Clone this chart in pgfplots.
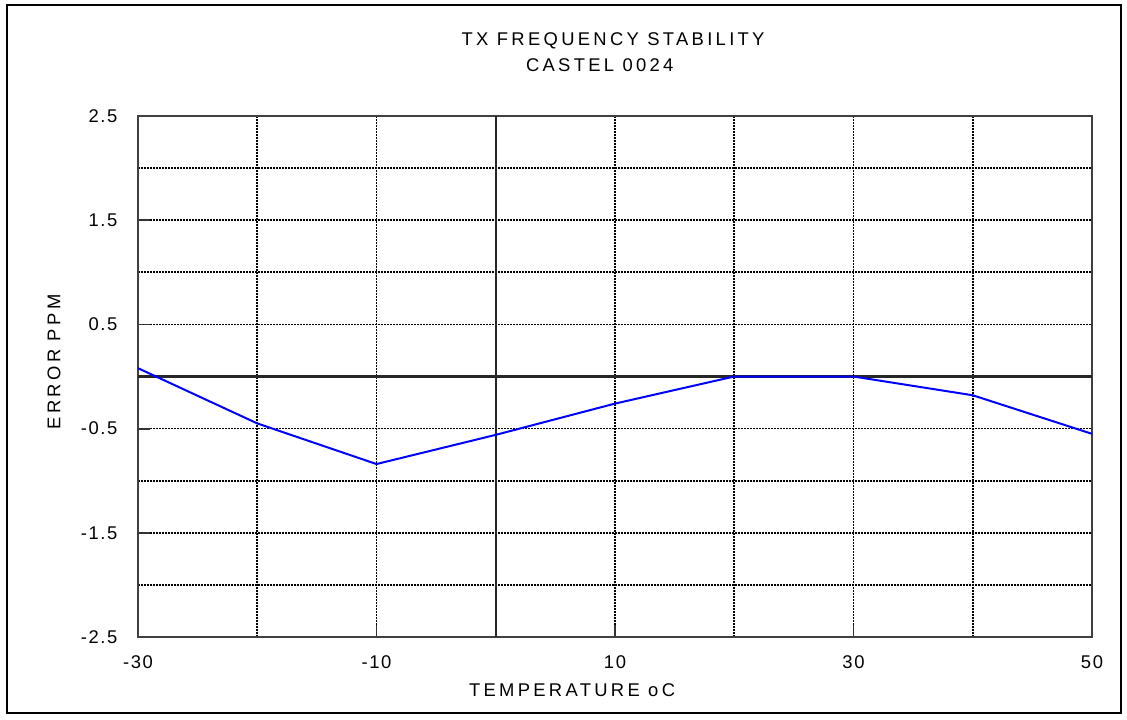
\documentclass[border=0pt]{standalone}
\usepackage{fontspec}
\setmainfont{Liberation Sans}[LetterSpace=18]
\newfontfamily\tickfont{Liberation Sans}[LetterSpace=9]
\usepackage{pgfplots}
\pgfplotsset{compat=1.18}
\begin{document}
\fontsize{9.2}{10}\selectfont
\begin{tikzpicture}
\begin{axis}[
    scale only axis,
    width=477pt, height=260.5pt,
    xmin=-30, xmax=50,
    ymin=-2.5, ymax=2.5,
    xtick={-30,-10,10,30,50},
    minor xtick={-20,0,20,40},
    ytick={-2.5,-1.5,-0.5,0.5,1.5,2.5},
    minor ytick={-2,-1,0,1,2},
    grid=both,
    major grid style={black, line width=0.85pt, dash pattern=on 0.8pt off 0.7pt},
    minor grid style={black, line width=0.85pt, dash pattern=on 0.8pt off 0.7pt},
    axis line style={black!75, line width=1.1pt},
    tick style={black!80, line width=0.9pt},
    tick align=inside,
    xtick pos=bottom, ytick pos=left,
    major tick length=6pt,
    minor tick length=0pt,
    /pgf/number format/assume math mode=true,
    ticklabel style={font=\tickfont},
    xticklabel style={anchor=center, yshift=-12.5pt},
    yticklabel style={anchor=east, xshift=-7pt,
        /pgf/number format/fixed, /pgf/number format/precision=1,
        /pgf/number format/fixed zerofill},
    clip=false,
]
% zero lines
\draw[black!85, line width=1.1pt] (axis cs:-30,0) -- (axis cs:50,0);
\draw[black!85, line width=1.1pt] (axis cs:0,-2.5) -- (axis cs:0,2.5);

\addplot[blue, line width=1pt] coordinates {
    (-30,0.08) (-20,-0.45) (-10,-0.84) (0,-0.56) (10,-0.26)
    (20,0) (30,0) (40,-0.18) (50,-0.55)
};

% titles and labels
\node at (rel axis cs:0.498,1.144) {TX FREQUENCY STABILITY};
\node at (rel axis cs:0.484,1.098) {CASTEL 0024};
\node at (rel axis cs:0.455,-0.1017) {TEMPERATURE oC};
\node[rotate=90] at (rel axis cs:-0.088,0.528) {ERROR PPM};

% outer frame and page size
\draw[black, line width=0.9pt] (rel axis cs:-0.1373,-0.1459) rectangle (rel axis cs:1.0304,1.2131);
\coordinate (bl) at (rel axis cs:-0.14465,-0.15739);
\coordinate (tr) at (rel axis cs:1.03669,1.22265);
\end{axis}
\pgfresetboundingbox
\path (bl) rectangle (tr);
\end{tikzpicture}
\end{document}
